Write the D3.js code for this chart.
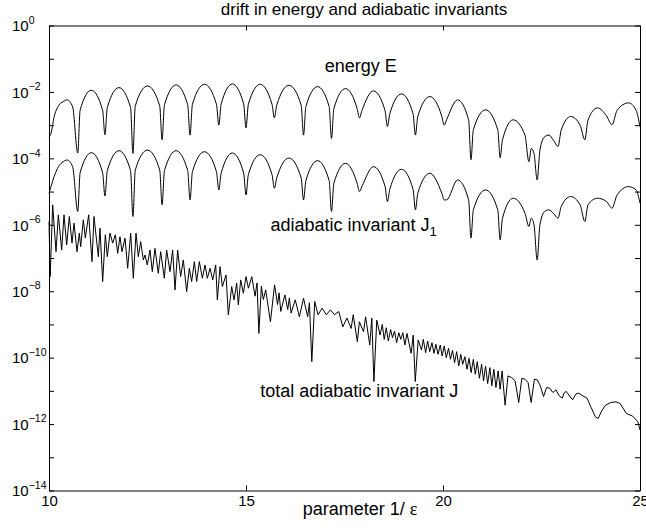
<!DOCTYPE html>
<html>
<head>
<meta charset="utf-8">
<script src="https://cdn.jsdelivr.net/npm/d3@7"></script>
<style>
  body { margin: 0; background: #fff; }
  svg text { font-family: 'Liberation Sans', Arial, Helvetica, sans-serif; fill: #000; }
</style>
</head>
<body>
<div id="chart"></div>
<script>
// x positions shared by the energy and J1 curves (parameter 1/eps)
const arcX = [
  10.00, 10.05, 10.13, 10.24, 10.36, 10.46, 10.60,
  10.73,
  10.79, 11.075, 11.36, 11.42,
  11.48, 11.775, 12.07, 12.13,
  12.19, 12.50, 12.81, 12.87,
  12.93, 13.225, 13.52, 13.58,
  13.64, 13.945, 14.25, 14.31,
  14.37, 14.655, 14.94, 15.00,
  15.06, 15.36, 15.66, 15.72,
  15.78, 16.09, 16.40, 16.46,
  16.52, 16.815, 17.11, 17.17,
  17.23, 17.525, 17.82, 17.88,
  17.94, 18.235, 18.53, 18.59,
  18.65, 18.945, 19.24, 19.30,
  19.36, 19.665, 19.97, 20.03,
  20.09, 20.37, 20.65, 20.71,
  20.77, 21.08, 21.39, 21.45,
  21.51, 21.78, 22.08,
  22.18, 22.24, 22.31, 22.39, 22.46, 22.58, 22.69, 22.80, 22.92, 23.00,
  23.24, 23.48, 23.60, 23.68, 23.92, 24.15, 24.29, 24.42, 24.71, 24.90, 25.00,
];

// log10 of the drift in energy E
const energyExp = [
  -3.35, -3.25, -2.75, -2.42, -2.29, -2.24, -2.45,
  -3.84,
  -2.55, -1.95, -2.55, -3.29,
  -2.47, -1.87, -2.47, -3.85,
  -2.42, -1.82, -2.42, -3.44,
  -2.39, -1.79, -2.39, -3.30,
  -2.37, -1.77, -2.37, -3.00,
  -2.36, -1.76, -2.36, -3.08,
  -2.37, -1.77, -2.37, -2.78,
  -2.40, -1.80, -2.40, -3.30,
  -2.44, -1.84, -2.44, -3.40,
  -2.50, -1.90, -2.50, -2.78,
  -2.57, -1.97, -2.57, -3.04,
  -2.66, -2.06, -2.66, -3.30,
  -2.74, -2.14, -2.74, -3.00,
  -2.84, -2.24, -2.84, -4.04,
  -3.14, -2.54, -3.14, -3.98,
  -3.44, -2.84, -3.30,
  -4.10, -3.70, -3.85, -4.65, -3.75, -3.35, -3.30, -3.45, -3.64, -3.15,
  -2.74, -3.00, -3.44, -2.85, -2.48, -2.72, -2.99, -2.55, -2.33, -2.55, -3.05,
];

// log10 of the drift in adiabatic invariant J1
const j1Exp = [
  -5.05, -4.85, -4.55, -4.25, -4.10, -4.05, -4.25,
  -5.60,
  -4.43, -3.83, -4.43, -5.13,
  -4.37, -3.77, -4.37, -5.75,
  -4.35, -3.75, -4.35, -5.40,
  -4.37, -3.77, -4.37, -5.25,
  -4.40, -3.80, -4.40, -4.95,
  -4.44, -3.84, -4.44, -5.10,
  -4.49, -3.89, -4.49, -4.90,
  -4.59, -3.99, -4.59, -5.25,
  -4.67, -4.07, -4.67, -5.60,
  -4.75, -4.15, -4.75, -5.00,
  -4.85, -4.25, -4.85, -5.30,
  -4.93, -4.33, -4.93, -5.55,
  -5.05, -4.45, -5.05, -5.25,
  -5.25, -4.65, -5.25, -6.40,
  -5.55, -4.95, -5.55, -6.45,
  -5.80, -5.20, -5.65,
  -6.05, -5.80, -6.00, -7.06, -6.00, -5.60, -5.55, -5.65, -5.80, -5.45,
  -5.15, -5.40, -5.90, -5.40, -5.20, -5.30, -5.50, -5.10, -4.85, -4.95, -5.35,
];

// total adiabatic invariant J: x positions and log10 values
const jX = [
  10.00, 10.03, 10.093, 10.178, 10.237, 10.322, 10.381, 10.448, 10.516, 10.584,
  10.635, 10.711, 10.770, 10.804, 10.871, 10.922, 11.007, 11.091, 11.142, 11.252,
  11.294, 11.362, 11.430, 11.480, 11.548, 11.616, 11.684, 11.743, 11.802, 11.853,
  11.929, 11.997, 12.073, 12.140, 12.208, 12.267, 12.327, 12.394, 12.436, 12.495,
  12.563, 12.622, 12.690, 12.774, 12.834, 12.927, 12.986, 13.071, 13.138, 13.198,
  13.265, 13.341, 13.409, 13.494, 13.562, 13.621, 13.689, 13.748, 13.816, 13.892,
  13.960, 14.019, 14.087, 14.155, 14.231, 14.273, 14.341, 14.400, 14.493, 14.552,
  14.637, 14.696, 14.764, 14.806, 14.865, 14.933, 15.001, 15.061, 15.147, 15.23,
  15.28, 15.326, 15.39, 15.44, 15.50, 15.620, 15.725, 15.80, 15.84, 15.882,
  15.987, 16.06, 16.10, 16.145, 16.250, 16.355, 16.460, 16.565, 16.61, 16.670,
  16.744, 16.828, 16.933, 17.038, 17.143, 17.248, 17.353, 17.458, 17.563, 17.668,
  17.721, 17.826, 17.878, 17.983, 18.036, 18.141, 18.193, 18.246, 18.319, 18.403,
  18.46, 18.508, 18.56, 18.613, 18.67, 18.718, 18.77, 18.823, 18.88, 18.928,
  18.98, 19.033, 19.086, 19.191, 19.244, 19.296, 19.370, 19.454, 19.50, 19.559,
  19.61, 19.664, 19.72, 19.769, 19.82, 19.874, 19.93, 19.979, 20.03, 20.084,
  20.14, 20.189, 20.24, 20.294, 20.346, 20.40, 20.451, 20.50, 20.556, 20.61,
  20.661, 20.714, 20.77, 20.819, 20.87, 20.924, 20.98, 21.029, 21.08, 21.134,
  21.19, 21.239, 21.29, 21.344, 21.40, 21.450, 21.50, 21.576, 21.65, 21.744,
  21.83, 21.922, 22.00, 22.080, 22.16, 22.237, 22.32, 22.395, 22.47, 22.552,
  22.63, 22.710, 22.79, 22.867, 22.95, 23.025, 23.08, 23.130, 23.21, 23.288,
  23.37, 23.445, 23.55, 23.655, 23.76, 23.865, 23.939, 24.03, 24.128, 24.26,
  24.390, 24.495, 24.653, 24.811, 24.947, 25.00,
];
const jExp = [
  -5.90, -7.56, -5.40, -6.81, -5.70, -6.76, -5.70, -6.61, -5.75, -6.55,
  -5.95, -6.81, -6.25, -6.66, -5.85, -6.40, -5.70, -7.11, -5.75, -6.96,
  -6.10, -7.71, -6.30, -6.96, -6.25, -6.55, -6.30, -6.86, -6.36, -6.81,
  -6.40, -7.31, -6.25, -7.61, -6.25, -6.96, -6.51, -7.06, -6.91, -7.21,
  -6.76, -7.41, -6.71, -7.46, -6.81, -7.61, -6.76, -7.41, -6.76, -7.96,
  -6.76, -7.56, -7.06, -8.01, -7.31, -7.71, -7.11, -7.71, -7.11, -7.61,
  -7.21, -7.61, -7.31, -7.66, -7.21, -8.26, -7.26, -7.86, -7.51, -8.71,
  -7.86, -8.26, -7.76, -8.41, -7.66, -8.06, -7.56, -7.91, -7.56, -8.15,
  -7.75, -9.27, -7.85, -8.25, -7.96, -8.92, -7.81, -8.40, -8.05, -8.61,
  -8.11, -8.55, -8.20, -8.66, -8.26, -8.77, -8.21, -8.77, -8.35, -10.12,
  -8.31, -8.71, -8.51, -8.71, -8.56, -8.71, -8.61, -9.07, -8.81, -9.12,
  -8.71, -9.52, -8.92, -9.22, -8.77, -9.62, -8.81, -10.72, -8.87, -9.32,
  -9.00, -9.45, -9.10, -9.50, -9.15, -9.40, -9.20, -9.55, -9.25, -9.45,
  -9.25, -9.62, -9.27, -9.87, -9.32, -10.72, -9.47, -9.77, -9.45, -9.85,
  -9.50, -9.82, -9.55, -9.87, -9.60, -9.90, -9.62, -9.95, -9.65, -10.00,
  -9.72, -10.05, -9.78, -10.15, -9.82, -10.25, -9.90, -10.20, -9.97, -10.35,
  -10.02, -10.45, -10.05, -10.50, -10.12, -10.62, -10.20, -10.70, -10.25, -10.78,
  -10.30, -10.85, -10.35, -10.90, -10.40, -10.95, -10.40, -11.43, -10.55, -10.60,
  -10.70, -11.35, -10.62, -10.65, -10.75, -11.35, -10.65, -10.67, -10.85, -11.17,
  -10.90, -10.92, -11.05, -10.97, -11.15, -11.22, -11.05, -11.02, -11.15, -11.27,
  -11.10, -11.07, -11.15, -11.22, -11.50, -11.78, -11.83, -11.60, -11.43, -11.35,
  -11.33, -11.38, -11.68, -11.76, -11.93, -12.18,
];

const xTicks = [10, 15, 20, 25];
const yTickExp = [-14, -13, -12, -11, -10, -9, -8, -7, -6, -5, -4, -3, -2, -1, 0];
const yLabelExp = [-14, -12, -10, -8, -6, -4, -2, 0];

const config = {
  containerWidth: 646,
  containerHeight: 531,
  margin: { top: 25.5, right: 6, bottom: 40.5, left: 49 },
  tickLength: 5,
};

const width = config.containerWidth - config.margin.left - config.margin.right;
const height = config.containerHeight - config.margin.top - config.margin.bottom;

const svg = d3.select('#chart').append('svg')
  .attr('width', config.containerWidth)
  .attr('height', config.containerHeight);

const chart = svg.append('g')
  .attr('transform', `translate(${config.margin.left},${config.margin.top})`);

const xScale = d3.scaleLinear().domain([10, 25]).range([0, width]);
const yScale = d3.scaleLog().domain([1e-14, 1]).range([height, 0]);

// curves
const toPoints = (xs, es) => xs.map((x, i) => ({ x, v: 10 ** es[i] }));

const arcLine = d3.line()
  .x((d) => xScale(d.x))
  .y((d) => yScale(d.v))
  .curve(d3.curveMonotoneX);

const jLine = d3.line()
  .x((d) => xScale(d.x))
  .y((d) => yScale(d.v));

chart.append('path')
  .datum(toPoints(arcX, energyExp))
  .attr('d', arcLine)
  .attr('fill', 'none')
  .attr('stroke', '#000')
  .attr('stroke-width', 1);

chart.append('path')
  .datum(toPoints(arcX, j1Exp))
  .attr('d', arcLine)
  .attr('fill', 'none')
  .attr('stroke', '#000')
  .attr('stroke-width', 1);

chart.append('path')
  .datum(toPoints(jX, jExp))
  .attr('d', jLine)
  .attr('fill', 'none')
  .attr('stroke', '#000')
  .attr('stroke-width', 1);

// axes, MATLAB style: ticks pointing inwards on all four sides
const tl = config.tickLength;

const xAxisG = chart.append('g')
  .attr('transform', `translate(0,${height})`)
  .call(d3.axisBottom(xScale).tickValues(xTicks).tickSizeInner(-tl).tickSizeOuter(0).tickPadding(5));

chart.append('g')
  .call(d3.axisTop(xScale).tickValues(xTicks).tickSizeInner(-tl).tickSizeOuter(0).tickFormat(''));

const yAxisG = chart.append('g')
  .call(d3.axisLeft(yScale).tickValues(yTickExp.map((e) => 10 ** e))
    .tickSizeInner(-tl).tickSizeOuter(0).tickFormat(''));

chart.append('g')
  .attr('transform', `translate(${width},0)`)
  .call(d3.axisRight(yScale).tickValues(yTickExp.map((e) => 10 ** e))
    .tickSizeInner(-tl).tickSizeOuter(0).tickFormat(''));

chart.selectAll('.domain, .tick line').attr('stroke', '#000').attr('stroke-width', 1);

xAxisG.selectAll('text')
  .attr('font-size', '15px');

// y labels as 10 with a raised exponent
yAxisG.selectAll('.tick').each(function (d) {
  const e = Math.round(Math.log10(d));
  if (!yLabelExp.includes(e)) return;
  const t = d3.select(this).select('text')
    .attr('x', -37)
    .attr('dy', '0.35em')
    .attr('text-anchor', 'start')
    .attr('font-size', '15px')
    .text('10');
  t.append('tspan')
    .attr('dy', -7.5)
    .attr('font-size', '10.5px')
    .text(e === 0 ? '0' : `\u2212${-e}`);
});

// annotations
const notes = chart.append('g').attr('font-size', '18px');

notes.append('text')
  .attr('x', xScale(17.0))
  .attr('y', yScale(10 ** -1.41))
  .text('energy E');

const j1Text = notes.append('text')
  .attr('x', xScale(15.62))
  .attr('y', yScale(10 ** -6.2))
  .text('adiabatic invariant J');
j1Text.append('tspan')
  .attr('dy', 5)
  .attr('font-size', '13px')
  .text('1');

notes.append('text')
  .attr('x', xScale(15.36))
  .attr('y', yScale(10 ** -11.19))
  .text('total adiabatic invariant J');

// title and x label
svg.append('text')
  .attr('x', 364)
  .attr('y', 15)
  .attr('text-anchor', 'middle')
  .attr('font-size', '17px')
  .text('drift in energy and adiabatic invariants');

const xLabel = svg.append('text')
  .attr('x', 360)
  .attr('y', 515)
  .attr('text-anchor', 'middle')
  .attr('font-size', '18px')
  .text('parameter 1/ ');
xLabel.append('tspan')
  .style('font-family', "'Liberation Serif', 'Times New Roman', serif")
  .text('\u03b5');
</script>
</body>
</html>
